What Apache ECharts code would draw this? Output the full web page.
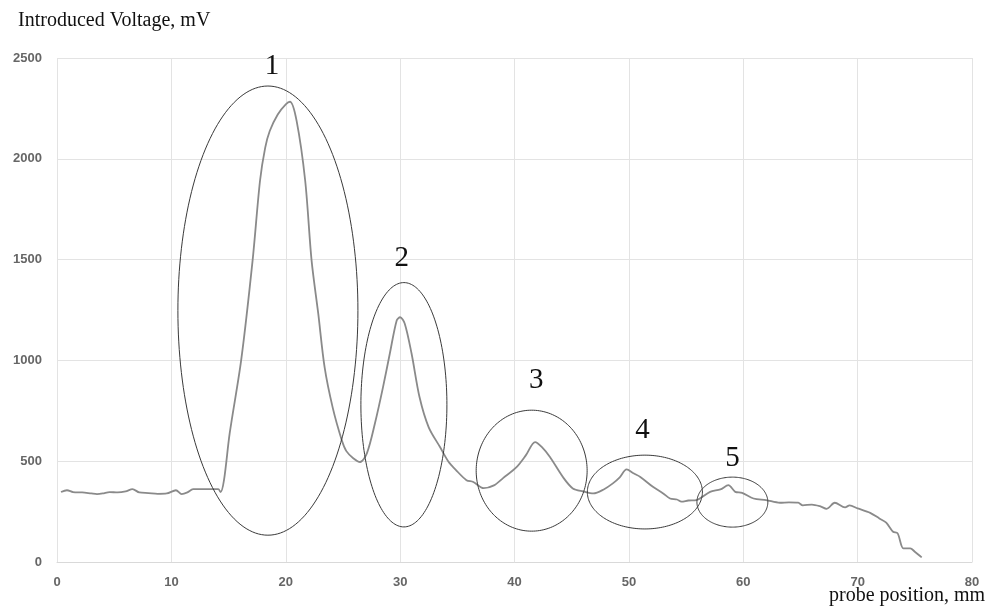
<!DOCTYPE html>
<html>
<head>
<meta charset="utf-8">
<script src="https://cdn.jsdelivr.net/npm/echarts@6/dist/echarts.min.js"></script>
<style>
html,body{margin:0;padding:0;background:#fff;}
#chart{width:989px;height:607px;}
</style>
</head>
<body>
<div id="chart"></div>
<script>
// probe position, mm
var posX = [0.35,0.87,1.4,2.2,3.0,3.5,4.0,4.6,5.3,6.0,6.6,7.2,8.0,8.8,9.6,10.4,10.9,11.4,11.9,12.8,13.6,14.1,14.3,
  14.6,15.1,16.1,17.1,17.75,18.2,18.6,19.3,20.0,20.37,20.95,21.7,22.26,22.84,23.4,24.1,24.9,25.3,25.9,26.5,
  27.1,27.8,28.5,29.1,29.7,30.0,30.4,31.0,31.7,32.5,33.5,34.2,34.9,35.8,36.4,37.3,38.2,39.0,40.2,41.0,41.8,
  42.4,43.1,44.3,45.1,46.0,46.9,47.8,48.6,49.2,49.8,50.4,51.0,52.1,53.0,53.6,54.2,54.6,55.2,55.9,57.1,58.0,
  58.7,59.3,59.9,60.9,62.0,63.2,64.0,64.8,65.2,66.0,66.7,67.3,68.0,68.9,69.3,70.0,71.1,71.9,72.5,73.1,73.5,
  74.0,74.6,75.0,75.6];
// introduced voltage, mV
var voltage = [347,356,347,345,340,337,340,347,345,350,361,345,342,338,340,356,337,345,361,361,361,361,347,
  406,639,1000,1495,1891,2054,2138,2220,2270,2283,2188,1891,1495,1233,965,767,604,550,515,496,
  540,688,866,1034,1198,1214,1183,1034,817,668,569,500,455,406,397,366,380,416,472,530,595,
  570,521,416,365,350,340,360,390,420,459,440,422,373,340,315,310,299,305,307,348,360,
  381,348,343,315,307,294,296,294,281,285,277,264,294,271,281,266,244,216,195,150,142,
  68,68,51,23];

// annotation ellipses (data units)
var ellLabel = ['1','2','3','4','5'];
var ellCx = [18.44,30.33,41.5,51.4,59.05];
var ellCy = [1247,780,453,347,297];
var ellRx = [7.87,3.76,4.85,5.03,3.1];
var ellRy = [1114,606,300,183,124];
var labelX = [18.8,30.15,41.9,51.2,59.05];
var labelY = [2460,1505,901,653,515];

var xTicks = {min:0,max:80,interval:10};
var yTicks = {min:0,max:2500,interval:500};

var lineData = posX.map(function(x,i){return [x, voltage[i]];});
var ellData = ellCx.map(function(c,i){return [c, ellCy[i], ellRx[i], ellRy[i]];});
var lblData = labelX.map(function(x,i){return [x, labelY[i], ellLabel[i]];});

var chart = echarts.init(document.getElementById('chart'), null, {renderer:'canvas'});
var tickFont = {color:'#666666', fontSize:13, fontWeight:'bold', fontFamily:'Liberation Sans, Arial, sans-serif', formatter:function(v){return String(v);}};
chart.setOption({
  animation:false,
  backgroundColor:'#ffffff',
  grid:{left:57,right:17,top:58,bottom:45,containLabel:false},
  xAxis:{type:'value',min:xTicks.min,max:xTicks.max,interval:xTicks.interval,
    axisLine:{show:true,lineStyle:{color:'#d9d9d9',width:1}},
    axisTick:{show:false},
    axisLabel:Object.assign({margin:14},tickFont),
    splitLine:{show:true,lineStyle:{color:'#e3e3e3',width:1}}},
  yAxis:{type:'value',min:yTicks.min,max:yTicks.max,interval:yTicks.interval,
    axisLine:{show:false},axisTick:{show:false},
    axisLabel:Object.assign({margin:15},tickFont),
    splitLine:{show:true,lineStyle:{color:'#e3e3e3',width:1}}},
  graphic:[
    {type:'text',left:18,top:11,style:{text:'Introduced Voltage, mV',fontFamily:'Liberation Serif, Times New Roman, serif',fontSize:20,fill:'#111'}},
    {type:'text',left:829,top:586,style:{text:'probe position, mm',fontFamily:'Liberation Serif, Times New Roman, serif',fontSize:20,fill:'#111'}}
  ],
  series:[
    {type:'line',data:lineData,showSymbol:false,symbol:'none',smooth:0.3,
      lineStyle:{color:'#8a8a8a',width:1.8},z:3},
    {type:'custom',data:ellData,z:4,silent:true,
      renderItem:function(params,api){
        var c = api.coord([api.value(0),api.value(1)]);
        var s = api.size([api.value(2),api.value(3)]);
        var pts=[];
        for(var k=0;k<180;k++){var a=k/180*Math.PI*2;pts.push([c[0]+s[0]*Math.cos(a),c[1]+s[1]*Math.sin(a)]);}
        return {type:'polygon',shape:{points:pts},style:{fill:'none',stroke:'#3a3a3a',lineWidth:1}};
      }},
    {type:'custom',data:lblData,z:5,silent:true,
      renderItem:function(params,api){
        var p = api.coord([api.value(0),api.value(1)]);
        return {type:'text',x:p[0],y:p[1],style:{text:ellLabel[params.dataIndex],fontFamily:'Liberation Serif, Times New Roman, serif',fontSize:29,fill:'#111',align:'center',verticalAlign:'middle'}};
      }}
  ]
});
</script>
</body>
</html>
